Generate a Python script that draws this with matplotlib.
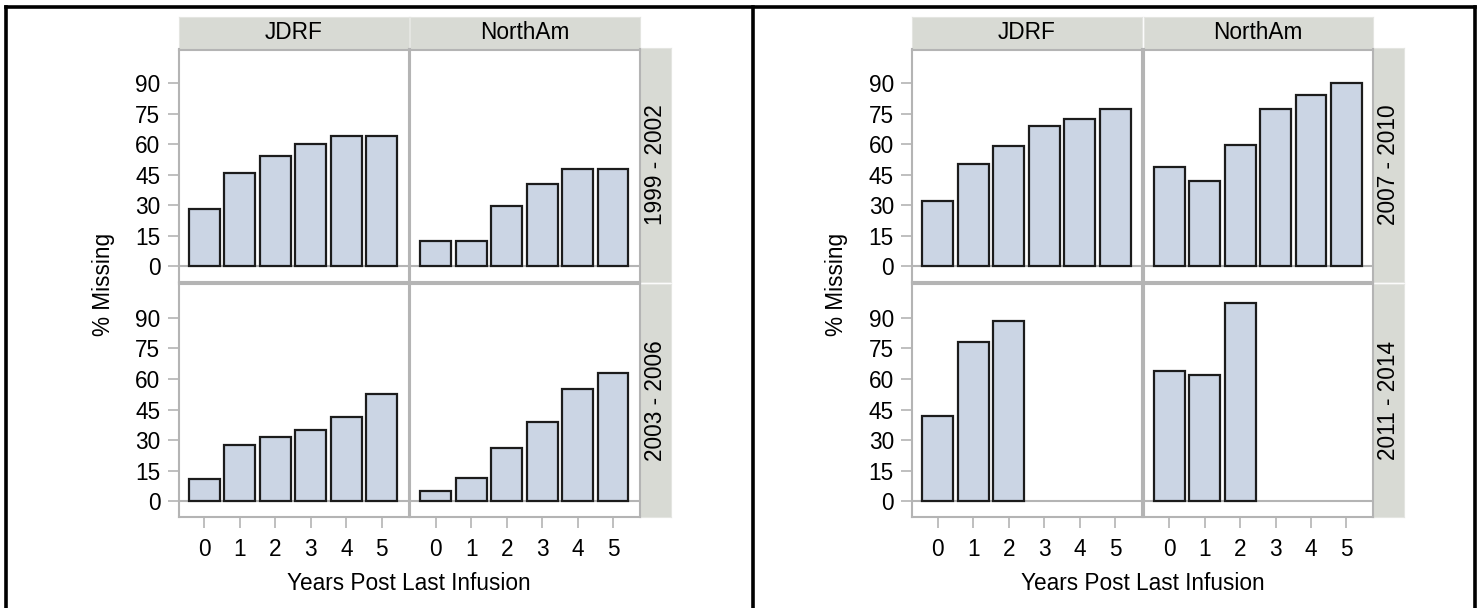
import matplotlib

matplotlib.use("Agg")

import matplotlib.pyplot as plt
from matplotlib.lines import Line2D

plt.rcParams["font.family"] = ["Liberation Sans", "DejaVu Sans"]

# data (% missing by years post last infusion)
years = [0, 1, 2, 3, 4, 5]
sites = ["JDRF", "NorthAm"]
periods_left = ["1999 - 2002", "2003 - 2006"]
periods_right = ["2007 - 2010", "2011 - 2014"]

jdrf_1999 = [28, 46, 54, 60, 64, 64]
northam_1999 = [12.5, 12.5, 29.5, 40.5, 48, 48]
jdrf_2003 = [11, 27.5, 31.5, 35, 41.5, 52.5]
northam_2003 = [5, 11.5, 26, 39, 55, 63]
jdrf_2007 = [32, 50.5, 59, 69, 72.5, 77.5]
northam_2007 = [49, 42, 59.5, 77.5, 84.5, 90]
jdrf_2011 = [42, 78, 88.5]
northam_2011 = [64, 62, 97]

y_ticks = [0, 15, 30, 45, 60, 75, 90]

W, H = 1482, 608
BAR_FILL = "#cbd5e4"
STRIP = "#d8dad4"
FRAME = "#b4b4b4"
FS = 16.3

fig = plt.figure(figsize=(W / 100, H / 100), dpi=100)


def box(x0, y0, x1, y1):
    # pixel box (top-left origin) -> figure rect
    return [x0 / W, 1 - y1 / H, (x1 - x0) / W, (y1 - y0) / H]


def draw_grid(x0, rows, periods):
    col_edges = [(x0, x0 + 230), (x0 + 231.5, x0 + 461)]
    row_edges = [(49.5, 281.5), (283.5, 517)]
    right = x0 + 461

    # column header strip
    for c, (a, b) in enumerate(col_edges):
        sax = fig.add_axes(box(a, 17, b, 48.5))
        sax.set_facecolor(STRIP)
        sax.set_xticks([])
        sax.set_yticks([])
        for s in sax.spines.values():
            s.set_color("#e4e5e1")
        sax.text(0.5, 0.5, sites[c], ha="center", va="center", fontsize=FS, transform=sax.transAxes)

    for r, (top, bot) in enumerate(row_edges):
        # row strip
        rax = fig.add_axes(box(right, top - 1.5 if r == 0 else top, right + 31, bot))
        rax.set_facecolor(STRIP)
        rax.set_xticks([])
        rax.set_yticks([])
        for s in rax.spines.values():
            s.set_color("#e4e5e1")
        rax.text(0.5, 0.5, periods[r], ha="center", va="center", rotation=90,
                 fontsize=FS, transform=rax.transAxes)

        for c, (a, b) in enumerate(col_edges):
            ax = fig.add_axes(box(a, top, b, bot))
            vals = rows[r][c]
            ax.axhline(0, color=FRAME, lw=1.5, zorder=1)
            ax.bar(years[:len(vals)], vals, width=0.87, color=BAR_FILL,
                   edgecolor="#1c1c1c", linewidth=1.6, zorder=2)
            ax.set_xlim(-0.73, 5.75)
            ax.set_ylim(-7.6, 106.7)
            for s in ax.spines.values():
                s.set_color(FRAME)
                s.set_linewidth(1.5)
            ax.tick_params(colors=FRAME, labelcolor="black", labelsize=FS,
                           length=8, width=1.2)
            ax.tick_params(axis="y", pad=5)
            ax.tick_params(axis="x", pad=7)
            if c == 0:
                ax.set_yticks(y_ticks)
            else:
                ax.set_yticks([])
            if r == 1:
                ax.set_xticks(years)
            else:
                ax.set_xticks([])

    fig.text((x0 - 75) / W, 1 - 284 / H, "% Missing", rotation=90,
             ha="center", va="center", fontsize=FS)
    fig.text((x0 + 230.5) / W, 1 - 584 / H, "Years Post Last Infusion",
             ha="center", va="center", fontsize=FS)


draw_grid(178.5, [[jdrf_1999, northam_1999], [jdrf_2003, northam_2003]], periods_left)
draw_grid(912, [[jdrf_2007, northam_2007], [jdrf_2011, northam_2011]], periods_right)

# outer frames of the two images
for xs, ys in [([6, 1475], [7, 7]), ([6, 6], [7, 620]), ([753, 753], [7, 620]),
               ([1475, 1475], [7, 620])]:
    fig.add_artist(Line2D([x / W for x in xs], [1 - y / H for y in ys],
                          color="black", lw=2.6, transform=fig.transFigure))

fig.savefig("out.png", dpi=100)
plt.close(fig)
